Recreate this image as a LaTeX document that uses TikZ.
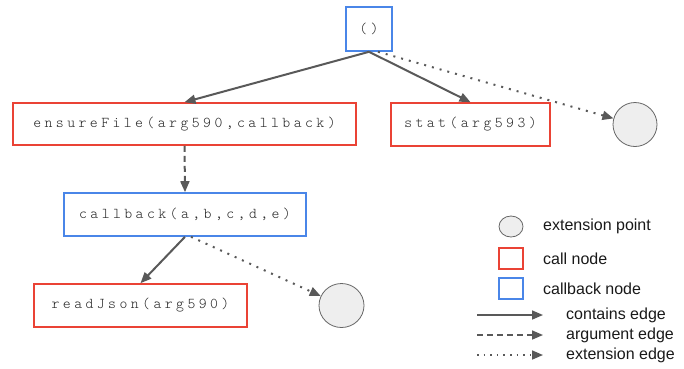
\documentclass[tikz,border=0pt]{standalone}
\usepackage{fontspec}
\newfontfamily\legfont{Liberation Sans}
\newfontfamily\codefont{lmmonolt10-regular.otf}[LetterSpace=23]
\usetikzlibrary{arrows.meta,shapes.geometric}
\definecolor{callred}{HTML}{EA4335}
\definecolor{cbblue}{HTML}{4A86E8}
\definecolor{edgegray}{HTML}{595959}
\definecolor{extfill}{HTML}{EEEEEE}
\definecolor{extline}{HTML}{666666}
\tikzset{
  code/.style={font=\codefont\fontsize{15}{18}\selectfont, inner sep=0pt, text=black!85},
  callbox/.style={code, draw=callred, line width=1.6pt, rectangle},
  cbbox/.style={code, draw=cbblue, line width=1.6pt, rectangle},
  extpt/.style={ellipse, draw=extline, fill=extfill, line width=0.8pt, inner sep=0pt},
  edgebase/.style={draw=edgegray, line width=2pt, -{Triangle[length=11pt,width=9pt]}},
  containsedge/.style={edgebase},
  argedge/.style={edgebase, dash pattern=on 6pt off 4pt},
  extedge/.style={edgebase, dash pattern=on 2pt off 6pt},
  legtext/.style={font=\legfont\fontsize{16}{18}\selectfont, anchor=west, inner sep=0pt, text=black!90},
}
\begin{document}
\begin{tikzpicture}[x=1pt,y=-1pt]
\useasboundingbox (0,0) rectangle (684,368);
% nodes
\node[cbbox, minimum width=46pt, minimum height=44pt] (root) at (369,29) {()};
\node[callbox, minimum width=343pt, minimum height=42pt] (ensure) at (184.5,124) {ensureFile(arg590,callback)};
\node[callbox, minimum width=159pt, minimum height=43pt] (stat) at (470.5,124.5) {stat(arg593)};
\node[extpt, minimum width=44pt, minimum height=44pt] (ext1) at (635,124.5) {};
\node[cbbox, minimum width=242pt, minimum height=43pt] (cb) at (185,214.5) {callback(a,b,c,d,e)};
\node[callbox, minimum width=213pt, minimum height=43pt] (rj) at (140.5,305.5) {readJson(arg590)};
\node[extpt, minimum width=45pt, minimum height=44pt] (ext2) at (341.5,305.5) {};
% edges
\draw[containsedge] (root.south) -- (ensure.north);
\draw[containsedge] (root.south) -- (stat.north);
\draw[extedge] ([xshift=9pt]root.south) -- (ext1);
\draw[argedge] (ensure.south) -- (cb.north);
\draw[containsedge] (cb.south) -- (rj.north);
\draw[extedge] ([xshift=6pt]cb.south) -- (ext2);
% legend
\node[extpt, minimum width=24pt, minimum height=21pt] (lc) at (511,226.5) {};
\node[draw=callred, line width=1.6pt, minimum width=24pt, minimum height=21pt, inner sep=0pt] (lr) at (511,258.5) {};
\node[draw=cbblue, line width=1.6pt, minimum width=24pt, minimum height=21pt, inner sep=0pt] (lb) at (511,288.5) {};
\node[legtext] (tc) at (543,226.5) {extension point};
\node[legtext] (tr) at (543,258.5) {call node};
\node[legtext] (tb) at (543,289) {callback node};
\coordinate (s1) at (477,315);
\coordinate (e1) at (543,315);
\coordinate (s2) at (477,335);
\coordinate (e2) at (543,335);
\coordinate (s3) at (477,355);
\coordinate (e3) at (543,355);
\draw[containsedge, line width=1.6pt] (s1) -- (e1);
\draw[argedge, line width=1.6pt] (s2) -- (e2);
\draw[edgebase, line width=1.6pt, dash pattern=on 1.6pt off 5pt] (s3) -- (e3);
\node[legtext] (l1) at (566,315) {contains edge};
\node[legtext] (l2) at (566,335) {argument edge};
\node[legtext] (l3) at (566,355) {extension edge};
\end{tikzpicture}
\end{document}
